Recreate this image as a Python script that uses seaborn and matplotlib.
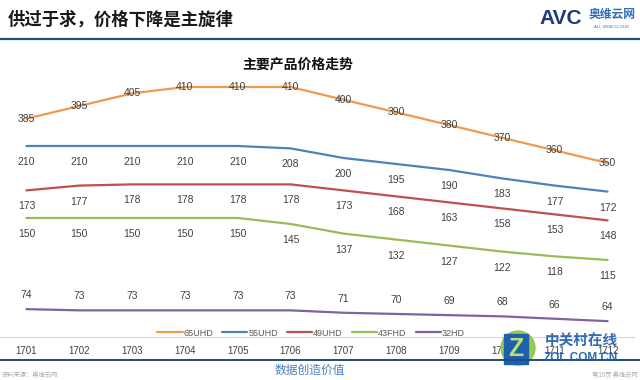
import pandas as pd
import matplotlib.pyplot as plt
import seaborn as sns
from matplotlib.lines import Line2D
from matplotlib.patches import FancyBboxPatch, Ellipse

# =====================================
# DATA
# =====================================

months = ['1701', '1702', '1703', '1704', '1705', '1706',
          '1707', '1708', '1709', '1710', '1711', '1712']

uhd65 = [385, 395, 405, 410, 410, 410, 400, 390, 380, 370, 360, 350]
uhd55 = [210, 210, 210, 210, 210, 208, 200, 195, 190, 183, 177, 172]
uhd49 = [173, 177, 178, 178, 178, 178, 173, 168, 163, 158, 153, 148]
fhd43 = [150, 150, 150, 150, 150, 145, 137, 132, 127, 122, 118, 115]
hd32 = [74, 73, 73, 73, 73, 73, 71, 70, 69, 68, 66, 64]

series_names = ['65UHD', '55UHD', '49UHD', '43FHD', '32HD']
series_values = [uhd65, uhd55, uhd49, fhd43, hd32]
colors = ['#EE9A50', '#4F81BD', '#C0504D', '#9BBB59', '#8064A2']

rows = []
for name, vals in zip(series_names, series_values):
    for i, v in enumerate(vals):
        rows.append({'series': name, 'pos': i, 'price': v})
df = pd.DataFrame(rows)

# =====================================
# STYLE
# =====================================

sns.set_style('white')
plt.rcParams['font.family'] = ['Liberation Sans', 'Noto Sans CJK SC', 'DejaVu Sans']
CJK = ['Noto Sans CJK SC', 'DejaVu Sans']
palette = dict(zip(series_names, colors))

fig = plt.figure(figsize=(6.4, 3.8), dpi=100)
ax = fig.add_axes([0, 0.1132, 634 / 640, 0.6895])
ax2 = ax.twinx()

# lower four series on the primary axis
sns.lineplot(
    data=df[df['series'] != '65UHD'],
    x='pos', y='price', hue='series',
    hue_order=series_names[1:], palette=palette,
    linewidth=1.6, legend=False, ax=ax
)

# 65UHD on the secondary axis
sns.lineplot(
    data=df[df['series'] == '65UHD'],
    x='pos', y='price', color=palette['65UHD'],
    linewidth=1.6, legend=False, ax=ax2
)

ax.set_xlim(-0.5, 11.5)
ax.set_ylim(50.8, 269.2)
ax2.set_ylim(212.7, 419.5)

for a in (ax, ax2):
    for s in ['top', 'right', 'left']:
        a.spines[s].set_visible(False)
    a.set_yticks([])
    a.set_ylabel('')
    a.set_xlabel('')
    a.grid(False)
ax2.spines['bottom'].set_visible(False)
ax.spines['bottom'].set_color('#D9D9D9')
ax.spines['bottom'].set_linewidth(0.8)

ax.set_xticks(range(len(months)))
ax.set_xticklabels(months, fontsize=7, color='#404040')
ax.tick_params(axis='x', length=0, pad=6.5)

# =====================================
# DATA LABELS
# =====================================

label_offsets = {'55UHD': -16, '49UHD': -16, '43FHD': -16, '32HD': 14}
for name, vals in zip(series_names[1:], series_values[1:]):
    for i, v in enumerate(vals):
        ax.annotate(str(v), (i, v), xytext=(0, label_offsets[name]),
                    textcoords='offset pixels', ha='center', va='center',
                    fontsize=7.5, color='#404040')
for i, v in enumerate(uhd65):
    ax2.annotate(str(v), (i, v), xytext=(0, 0),
                 textcoords='offset pixels', ha='center', va='center',
                 fontsize=7.5, color='#404040', zorder=5)

# =====================================
# LEGEND
# =====================================

handles = [Line2D([0], [0], color=c, lw=1.6) for c in colors]
leg = fig.legend(handles, series_names, ncol=5, loc='center',
                 bbox_to_anchor=(311 / 640, 1 - 333 / 380), frameon=False,
                 fontsize=6.5, handlelength=2.8, handletextpad=0.1,
                 columnspacing=1.0)
for t in leg.get_texts():
    t.set_color('#595959')

# =====================================
# TITLES AND SLIDE DECORATION
# =====================================

fig.text(298 / 640, 1 - 65 / 380, '主要产品价格走势', ha='center', va='center',
         fontsize=10, fontweight='bold', family=CJK, color='#111111')

fig.text(8 / 640, 1 - 20 / 380, '供过于求，价格下降是主旋律', ha='left', va='center',
         fontsize=12.5, fontweight='bold', family=CJK, color='#1A1A1A')

fig.add_artist(Line2D([0, 1], [1 - 39 / 380, 1 - 39 / 380],
                      color='#1F4E79', lw=1.6))
fig.add_artist(Line2D([0, 1], [1 - 360 / 380, 1 - 360 / 380],
                      color='#1F4E79', lw=1.4))

# AVC logo
fig.text(561 / 640, 1 - 18 / 380, 'AVC', ha='center', va='center',
         fontsize=15, fontweight='bold', color='#1F3A78')
fig.text(612 / 640, 1 - 14 / 380, '奥维云网', ha='center', va='center',
         fontsize=8.5, fontweight='bold', family=CJK, color='#2F6DB5')
fig.text(612 / 640, 1 - 27 / 380, 'ALL VIEW CLOUD', ha='center', va='center',
         fontsize=3, color='#2F6DB5')

# footer
fig.text(310 / 640, 1 - 370 / 380, '数据创造价值', ha='center', va='center',
         fontsize=8.5, family=CJK, color='#4A7EBB')
fig.text(2 / 640, 0.003, '资料来源：奥维云网', ha='left', va='bottom',
         fontsize=4.5, family=CJK, color='#AAAAAA')
fig.text(638 / 640, 0.003, '第10页 奥维云网', ha='right', va='bottom',
         fontsize=4.5, family=CJK, color='#AAAAAA')

# ZOL watermark
fig.add_artist(Ellipse((518 / 640, 1 - 348 / 380), 34 / 640, 34 / 380,
                       transform=fig.transFigure, color='#8DC63F', alpha=0.9))
fig.add_artist(FancyBboxPatch((504 / 640, 1 - 364 / 380), 24 / 640, 30 / 380,
                              boxstyle='square,pad=0', transform=fig.transFigure,
                              color='#1F5FAF'))
fig.text(516 / 640, 1 - 349 / 380, 'Z', ha='center', va='center',
         fontsize=18, fontweight='bold', color='#B8E070')
fig.text(581 / 640, 1 - 341 / 380, '中关村在线', ha='center', va='center',
         fontsize=10.5, fontweight='bold', family=CJK, color='#1E5BA8', alpha=0.9)
fig.text(581 / 640, 1 - 358 / 380, 'ZOL.COM.CN', ha='center', va='center',
         fontsize=8.5, fontweight='bold', color='#1E5BA8', alpha=0.9)

fig.savefig('out.png', dpi=100)
plt.close()
